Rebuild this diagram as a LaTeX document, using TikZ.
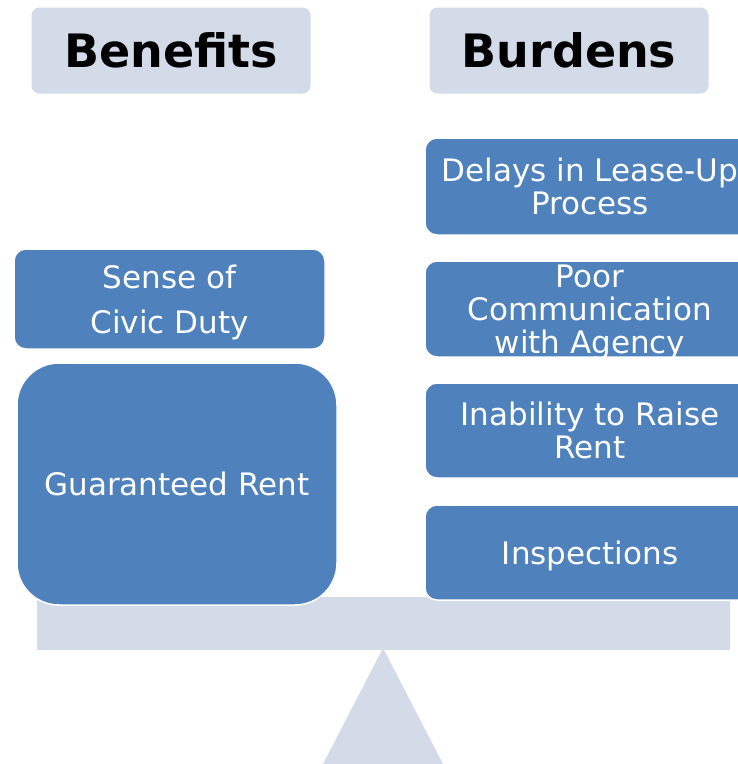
\documentclass[tikz,border=0pt]{standalone}
\usepackage{fontspec}
\setmainfont{DejaVu Sans}
\definecolor{boxblue}{RGB}{79,129,189}
\definecolor{scalegray}{RGB}{211,218,232}
\begin{document}
\begin{tikzpicture}[x=1pt,y=-1pt,
  header/.style={fill=scalegray, rounded corners=8pt, minimum width=279pt,
    minimum height=86pt, inner sep=0pt, text=black,
    font=\bfseries\fontsize{46}{50}\selectfont},
  item/.style={fill=boxblue, draw=white, line width=1.5pt, inner sep=0pt,
    rounded corners=12pt, text=white, align=center, text depth=0pt,
    font=\fontsize{31}{33}\selectfont},
]
\useasboundingbox (0,0) rectangle (738,764);

% balance: beam and pivot
\fill[scalegray] (37,597) rectangle (730,650);
\fill[scalegray] (383,648) -- (444,766) -- (322,766) -- cycle;

% column headings
\node[header] (hben) at (171,50.5) {Benefits};
\node[header] (hbur) at (569,50.5) {Burdens};

% benefits side
\node[item, minimum width=311pt, minimum height=100pt,
  font=\fontsize{31}{45}\selectfont] (civic) at (169.5,299) {Sense of\\Civic Duty};
\node[item, minimum width=320pt, minimum height=242pt, rounded corners=42pt]
  (rent) at (177,484) {Guaranteed Rent};

% burdens side
\node[item, minimum width=330pt, minimum height=97pt] (delay) at (590,186.5)
  {Delays in Lease-Up\\Process};
\node[item, minimum width=330pt, minimum height=96pt] (comm) at (590,309)
  {Poor\\Communication\\with Agency};
\node[item, minimum width=330pt, minimum height=95pt] (raise) at (590,430.5)
  {Inability to Raise\\Rent};
\node[item, minimum width=330pt, minimum height=95pt] (insp) at (590,552.5)
  {Inspections};
\end{tikzpicture}
\end{document}
